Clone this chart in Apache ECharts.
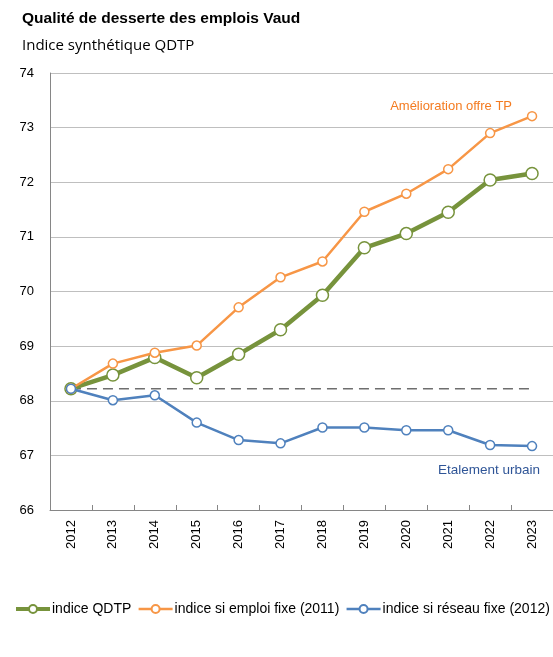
<!DOCTYPE html>
<html>
<head>
<meta charset="utf-8">
<script src="https://cdn.jsdelivr.net/npm/echarts@6/dist/echarts.min.js"></script>
<style>
  html, body { margin: 0; padding: 0; background: #fff; }
  #main { width: 553px; height: 657px; }
</style>
</head>
<body>
<div id="main"></div>
<script>
var years = ['2012', '2013', '2014', '2015', '2016', '2017', '2018', '2019', '2020', '2021', '2022', '2023'];
var qdtp = [68.22, 68.47, 68.79, 68.42, 68.85, 69.30, 69.93, 70.80, 71.06, 71.45, 72.04, 72.16];
var emploiFixe = [68.22, 68.68, 68.88, 69.01, 69.71, 70.26, 70.55, 71.46, 71.79, 72.24, 72.90, 73.21];
var reseauFixe = [68.22, 68.01, 68.10, 67.60, 67.28, 67.22, 67.51, 67.51, 67.46, 67.46, 67.19, 67.17];
var baseLevel = 68.22;
var yTicks = [66, 74, 1];

var sans = '"Liberation Sans", Arial, sans-serif';

var myChart = echarts.init(document.getElementById('main'));

myChart.setOption({
    animation: false,
    backgroundColor: '#fff',
    title: [{
        text: 'Qualité de desserte des emplois Vaud',
        left: 22,
        top: 11,
        padding: 0,
        textStyle: { fontFamily: sans, fontSize: 15.5, fontWeight: 'bold', color: '#000' }
    }, {
        text: 'Indice synthétique QDTP',
        left: 22,
        top: 38,
        padding: 0,
        textStyle: { fontFamily: '"Open Sans", sans-serif', fontSize: 15, fontWeight: 'normal', color: '#000' }
    }],
    grid: { left: 50, right: 0, top: 73, bottom: 147 },
    legend: {
        left: 14,
        top: 602,
        width: 539,
        padding: 0,
        itemGap: 6,
        itemWidth: 34,
        itemHeight: 10,
        data: [
            { name: 'indice QDTP', lineStyle: { width: 4 } },
            { name: 'indice si emploi fixe (2011)', lineStyle: { width: 2.5 } },
            { name: 'indice si réseau fixe (2012)', lineStyle: { width: 2.5 } }
        ],
        textStyle: { fontFamily: sans, fontSize: 14, color: '#000', padding: [0, 0, 0, -3] }
    },
    xAxis: {
        type: 'category',
        data: years,
        boundaryGap: true,
        axisLine: { lineStyle: { color: '#868686', width: 1 } },
        axisTick: { show: true, inside: true, length: 5, lineStyle: { color: '#868686' } },
        axisLabel: { rotate: 90, margin: 10, fontFamily: sans, fontSize: 13, color: '#000' }
    },
    yAxis: {
        type: 'value',
        min: yTicks[0],
        max: yTicks[1],
        interval: yTicks[2],
        axisLine: { show: true, lineStyle: { color: '#868686', width: 1 } },
        axisTick: { show: false },
        axisLabel: { margin: 16, fontFamily: sans, fontSize: 13, color: '#000' },
        splitLine: { lineStyle: { color: '#BFBFBF', width: 1 } }
    },
    graphic: [{
        type: 'text',
        right: 41,
        top: 100,
        style: { text: 'Amélioration offre TP', fill: '#F47B20', font: '13px ' + sans }
    }, {
        type: 'text',
        right: 13,
        top: 463,
        style: { text: 'Etalement urbain', fill: '#2F5597', font: '13.5px ' + sans }
    }],
    series: [{
        name: 'base',
        type: 'line',
        data: years.map(function () { return baseLevel; }),
        symbol: 'none',
        silent: true,
        lineStyle: { color: '#6E6E6E', width: 1.5, type: [10, 6] },
        z: 1
    }, {
        name: 'indice QDTP',
        type: 'line',
        data: qdtp,
        symbol: 'circle',
        symbolSize: 12,
        lineStyle: { color: '#77933C', width: 4.5 },
        itemStyle: { color: '#fff', borderColor: '#77933C', borderWidth: 1.5 },
        z: 2
    }, {
        name: 'indice si emploi fixe (2011)',
        type: 'line',
        data: emploiFixe,
        symbol: 'circle',
        symbolSize: 9,
        lineStyle: { color: '#F79646', width: 2.5 },
        itemStyle: { color: '#fff', borderColor: '#F79646', borderWidth: 1.5 },
        z: 3
    }, {
        name: 'indice si réseau fixe (2012)',
        type: 'line',
        data: reseauFixe,
        symbol: 'circle',
        symbolSize: 9,
        lineStyle: { color: '#4F81BD', width: 2.5 },
        itemStyle: { color: '#fff', borderColor: '#4F81BD', borderWidth: 1.5 },
        z: 4
    }]
});
</script>
</body>
</html>
